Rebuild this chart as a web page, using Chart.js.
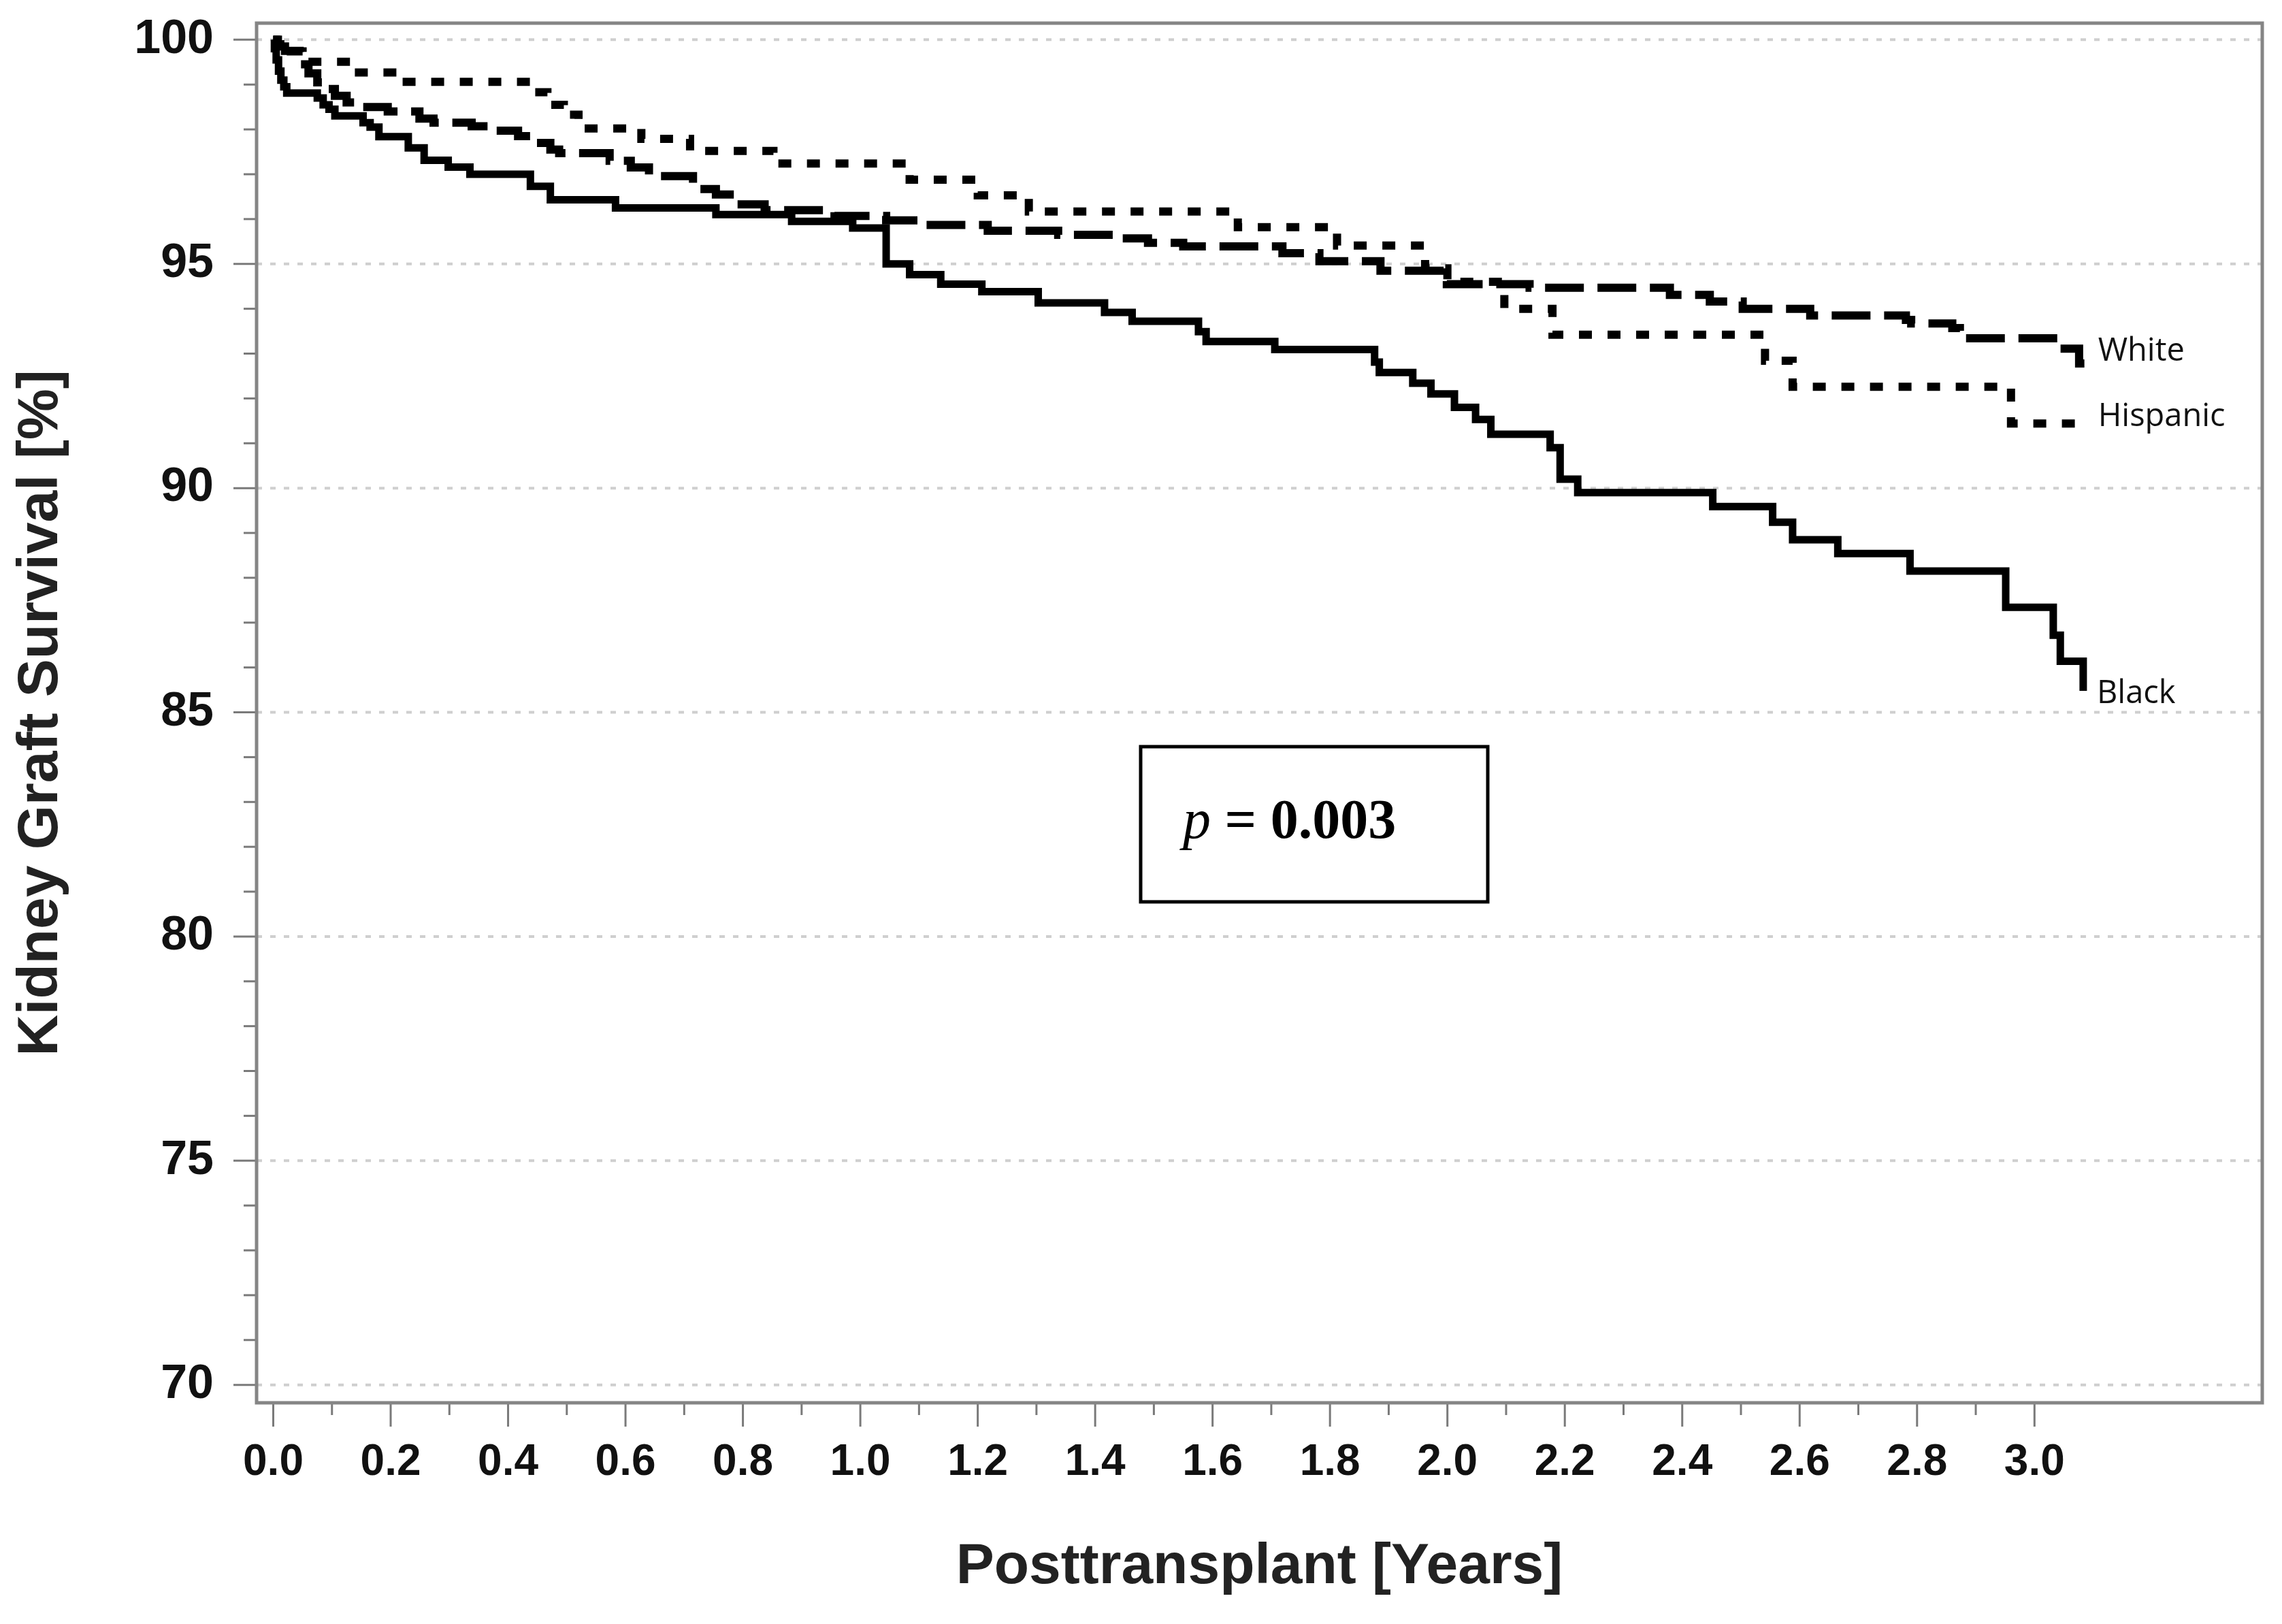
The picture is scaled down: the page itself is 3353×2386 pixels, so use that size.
<!DOCTYPE html>
<html lang="en">
<head>
<meta charset="UTF-8">
<title>Kidney Graft Survival</title>
<script src="https://cdn.jsdelivr.net/npm/chart.js"></script>
<style>
  html, body { margin: 0; padding: 0; background: #fff; }
  canvas { display: block; }
</style>
</head>
<body>
<canvas id="kmChart" width="3353" height="2386"></canvas>
<script>
// Kaplan-Meier steps: time in years, graft survival in %
const whiteTimes = [0, 0.008, 0.02, 0.045, 0.06, 0.075, 0.09, 0.105, 0.125, 0.15, 0.195, 0.249, 0.273, 0.338,
  0.366, 0.417, 0.443, 0.472, 0.487, 0.573, 0.609, 0.64, 0.715, 0.754, 0.785, 0.837, 0.956, 1.044,
  1.104, 1.217, 1.337, 1.43, 1.49, 1.55, 1.719, 1.782, 1.886, 1.999, 2.14, 2.379, 2.447, 2.503,
  2.618, 2.781, 2.79, 2.86, 2.873, 3.044, 3.076, 3.085];
const whiteSurv = [100, 99.85, 99.75, 99.45, 99.25, 99.05, 98.9, 98.75, 98.6, 98.5, 98.4, 98.24, 98.15, 98.07,
  97.97, 97.85, 97.7, 97.55, 97.47, 97.3, 97.15, 96.96, 96.67, 96.55, 96.33, 96.2, 96.07, 95.97,
  95.87, 95.74, 95.65, 95.57, 95.47, 95.39, 95.24, 95.06, 94.85, 94.55, 94.47, 94.31, 94.16, 94.0,
  93.85, 93.75, 93.67, 93.57, 93.34, 93.11, 92.78, 92.78];

const hispanicTimes = [0, 0.005, 0.012, 0.03, 0.05, 0.137, 0.215, 0.44, 0.467, 0.495, 0.52, 0.627, 0.71,
  0.852, 1.084, 1.2, 1.287, 1.643, 1.812, 1.962, 2.0, 2.097, 2.179, 2.541, 2.588, 2.96, 3.085];
const hispanicSurv = [100, 99.9, 99.8, 99.74, 99.51, 99.27, 99.06, 98.83, 98.55, 98.33, 98.02, 97.79, 97.52,
  97.24, 96.88, 96.53, 96.17, 95.82, 95.41, 94.9, 94.6, 94.0, 93.42, 92.84, 92.26, 91.44, 91.44];

const blackTimes = [0, 0.002, 0.005, 0.009, 0.013, 0.018, 0.023, 0.075, 0.085, 0.095, 0.105, 0.153, 0.165,
  0.18, 0.23, 0.257, 0.298, 0.335, 0.438, 0.472, 0.583, 0.754, 0.883, 0.987, 1.044, 1.084, 1.137,
  1.207, 1.303, 1.416, 1.463, 1.576, 1.589, 1.706, 1.876, 1.884, 1.941, 1.972, 2.012, 2.048, 2.074,
  2.175, 2.192, 2.222, 2.452, 2.554, 2.588, 2.665, 2.788, 2.951, 3.032, 3.044, 3.083];
const blackSurv = [100, 99.8, 99.55, 99.3, 99.1, 98.95, 98.81, 98.7, 98.55, 98.45, 98.3, 98.15, 98.05,
  97.84, 97.59, 97.31, 97.16, 97.0, 96.73, 96.43, 96.25, 96.1, 95.95, 95.8, 95.0, 94.76, 94.55,
  94.38, 94.13, 93.92, 93.72, 93.49, 93.27, 93.09, 92.81, 92.58, 92.34, 92.1, 91.8, 91.53, 91.2,
  90.9, 90.2, 89.9, 89.59, 89.24, 88.85, 88.54, 88.15, 87.34, 86.72, 86.14, 85.48];

const xTickLabels = ['0.0', '0.2', '0.4', '0.6', '0.8', '1.0', '1.2', '1.4', '1.6', '1.8', '2.0',
  '2.2', '2.4', '2.6', '2.8', '3.0'];
const yTickLabels = ['70', '75', '80', '85', '90', '95', '100'];
const pValue = '0.003';

const xTickValues = xTickLabels.map(Number);
const yTickValues = yTickLabels.map(Number);

function toPoints(times, surv) {
  return times.map((t, i) => ({ x: t, y: surv[i] }));
}

// group labels at the right end of each curve (pixel nudge up/down)
const endLabels = [
  { text: 'White', times: whiteTimes, surv: whiteSurv, dy: -17 },
  { text: 'Hispanic', times: hispanicTimes, surv: hispanicSurv, dy: -10 },
  { text: 'Black', times: blackTimes, surv: blackSurv, dy: 5 }
];

const frameAndTicks = {
  id: 'frameAndTicks',
  beforeDatasetsDraw(chart) {
    const { ctx, chartArea: a, scales: { y } } = chart;
    // dotted horizontal grid
    ctx.save();
    ctx.strokeStyle = '#cfcfcf';
    ctx.lineWidth = 4;
    ctx.setLineDash([8, 12]);
    yTickValues.forEach(v => {
      const py = y.getPixelForValue(v);
      ctx.beginPath();
      ctx.moveTo(a.left, py);
      ctx.lineTo(a.right, py);
      ctx.stroke();
    });
    ctx.restore();
  },
  afterDraw(chart) {
    const { ctx, chartArea: a, scales: { x, y } } = chart;
    ctx.save();
    ctx.strokeStyle = '#7a7a7a';
    ctx.lineWidth = 3;
    // y ticks: major every 5, minor every 1
    for (let v = 70; v <= 100; v++) {
      const py = y.getPixelForValue(v);
      const len = v % 5 === 0 ? 34 : 19;
      ctx.beginPath();
      ctx.moveTo(a.left - len, py);
      ctx.lineTo(a.left, py);
      ctx.stroke();
    }
    // x ticks: major every 0.2, minor every 0.1
    for (let i = 0; i <= 30; i++) {
      const px = x.getPixelForValue(i / 10);
      const len = i % 2 === 0 ? 35 : 18;
      ctx.beginPath();
      ctx.moveTo(px, a.bottom);
      ctx.lineTo(px, a.bottom + len);
      ctx.stroke();
    }
    // plot frame
    ctx.strokeStyle = '#858585';
    ctx.lineWidth = 5;
    ctx.strokeRect(a.left, a.top, a.right - a.left, a.bottom - a.top);

    // curve labels
    ctx.fillStyle = '#111';
    ctx.font = '47px "Open Sans", sans-serif';
    ctx.textBaseline = 'middle';
    ctx.textAlign = 'left';
    endLabels.forEach(l => {
      const last = l.times.length - 1;
      const px = x.getPixelForValue(l.times[last]) + 20;
      const py = y.getPixelForValue(l.surv[last]) + l.dy;
      ctx.fillText(l.text, px, py);
    });

    // p-value box
    ctx.strokeStyle = '#000';
    ctx.lineWidth = 5;
    ctx.strokeRect(1676, 1097, 510, 228);
    ctx.fillStyle = '#000';
    ctx.textBaseline = 'alphabetic';
    ctx.font = 'italic 82px "Liberation Serif", serif';
    ctx.fillText('p', 1738, 1231);
    const pw = ctx.measureText('p').width;
    ctx.font = 'bold 82px "Liberation Serif", serif';
    ctx.fillText(' = ' + pValue, 1738 + pw, 1231);
    ctx.restore();
  }
};

const ctx = document.getElementById('kmChart').getContext('2d');
new Chart(ctx, {
  type: 'line',
  data: {
    datasets: [
      {
        label: 'White',
        data: toPoints(whiteTimes, whiteSurv),
        borderColor: '#000',
        borderWidth: 12,
        borderDash: [57, 20],
        stepped: 'before',
        pointRadius: 0,
        fill: false
      },
      {
        label: 'Hispanic',
        data: toPoints(hispanicTimes, hispanicSurv),
        borderColor: '#000',
        borderWidth: 12,
        borderDash: [19, 23],
        stepped: 'before',
        pointRadius: 0,
        fill: false
      },
      {
        label: 'Black',
        data: toPoints(blackTimes, blackSurv),
        borderColor: '#000',
        borderWidth: 11,
        stepped: 'before',
        pointRadius: 0,
        fill: false
      }
    ]
  },
  options: {
    responsive: false,
    devicePixelRatio: 1,
    animation: false,
    layout: { padding: { top: 34, right: 29, left: 0, bottom: 0 } },
    plugins: {
      legend: { display: false },
      tooltip: { enabled: false }
    },
    scales: {
      x: {
        type: 'linear',
        min: -0.0284,
        max: 3.388,
        afterFit: s => { s.height = 325; s.paddingLeft = 0; s.paddingRight = 0; },
        afterBuildTicks: s => { s.ticks = xTickValues.map(v => ({ value: v })); },
        grid: { display: false, drawTicks: false },
        border: { display: false },
        ticks: {
          padding: 50,
          maxRotation: 0,
          autoSkip: false,
          color: '#111',
          font: { family: '"Liberation Sans", Arial, sans-serif', size: 64, weight: 'bold' },
          callback: (v, i) => xTickLabels[i]
        },
        title: {
          display: true,
          text: 'Posttransplant [Years]',
          color: '#222',
          padding: { top: 0, bottom: 33 },
          font: { family: '"Liberation Sans", Arial, sans-serif', size: 84, weight: 'bold' }
        }
      },
      y: {
        min: 69.6,
        max: 100.37,
        afterFit: s => { s.width = 377; s.paddingTop = 0; s.paddingBottom = 0; },
        afterBuildTicks: s => { s.ticks = yTickValues.map(v => ({ value: v })); },
        grid: { display: false, drawTicks: false },
        border: { display: false },
        ticks: {
          padding: 63,
          autoSkip: false,
          color: '#111',
          font: { family: '"Liberation Sans", Arial, sans-serif', size: 70, weight: 'bold' },
          callback: (v, i) => yTickLabels[i]
        },
        title: {
          display: true,
          text: 'Kidney Graft Survival [%]',
          color: '#222',
          padding: { top: 10, bottom: 0 },
          font: { family: '"Liberation Sans", Arial, sans-serif', size: 84, weight: 'bold' }
        }
      }
    }
  },
  plugins: [frameAndTicks]
});
</script>
</body>
</html>
